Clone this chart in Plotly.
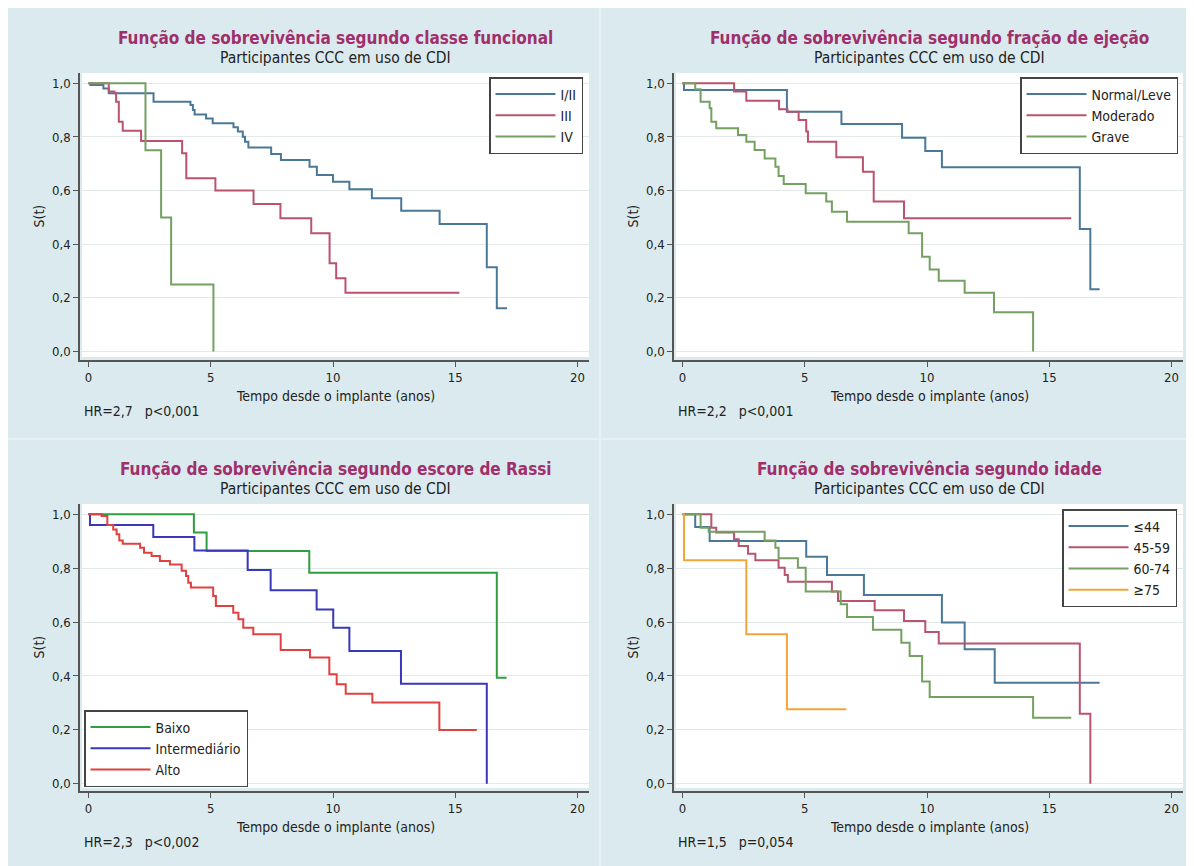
import plotly.graph_objects as go

# the page shows the figure with an 8 px body margin
OFF = 8
W, H = 1194 - OFF, 866 - OFF

# ---------------- DATA ----------------
x_tick_vals = [0, 5, 10, 15, 20]
x_tick_text = ["0", "5", "10", "15", "20"]
y_tick_vals = [0, 0.2, 0.4, 0.6, 0.8, 1.0]
y_tick_text = ["0,0", "0,2", "0,4", "0,6", "0,8", "1,0"]

# Panel 1: classe funcional
cf_names = ["I/II", "III", "IV"]
cf_I_II_t = [0, 0.08, 0.61, 0.83, 2.66, 4.17, 4.27, 4.34, 4.81, 5.08, 5.93, 6.11, 6.31, 6.40, 6.54,
             7.47, 7.87, 9.04, 9.34, 10.0, 10.67, 11.59, 12.79, 14.36, 16.29, 16.70, 17.12]
cf_I_II_s = [1.0, 0.994, 0.981, 0.963, 0.931, 0.919, 0.900, 0.884, 0.869, 0.851, 0.836, 0.820, 0.801,
             0.782, 0.761, 0.736, 0.714, 0.689, 0.658, 0.633, 0.605, 0.571, 0.525, 0.475, 0.314, 0.161, 0.161]
cf_III_t = [0, 0.83, 1.06, 1.13, 1.24, 1.40, 2.15, 3.83, 4.0, 5.19, 6.75, 7.85, 9.11, 9.86, 10.13, 10.51, 15.17]
cf_III_s = [1.0, 0.969, 0.963, 0.931, 0.857, 0.823, 0.785, 0.739, 0.646, 0.600, 0.550, 0.497, 0.441,
            0.329, 0.273, 0.219, 0.219]
cf_IV_t = [0, 2.33, 2.97, 3.38, 5.11]
cf_IV_s = [1.0, 0.75, 0.50, 0.25, 0.0]

# Panel 2: fracao de ejecao
fe_names = ["Normal/Leve", "Moderado", "Grave"]
fe_normal_t = [0, 0.06, 4.27, 6.50, 8.98, 9.93, 10.61, 16.25, 16.68, 17.06]
fe_normal_s = [1.0, 0.975, 0.894, 0.848, 0.797, 0.748, 0.687, 0.457, 0.232, 0.232]
fe_moder_t = [0, 2.11, 2.61, 3.95, 4.29, 4.75, 5.06, 5.13, 6.29, 7.38, 7.82, 9.06, 15.90]
fe_moder_s = [1.0, 0.969, 0.935, 0.903, 0.894, 0.863, 0.820, 0.782, 0.724, 0.670, 0.559, 0.497, 0.497]
fe_grave_t = [0, 0.52, 0.74, 1.11, 1.18, 1.38, 2.27, 2.61, 2.95, 3.36, 3.80, 3.93, 4.14, 5.04, 5.88,
              6.11, 6.73, 9.25, 9.80, 10.11, 10.48, 11.54, 12.74, 14.34]
fe_grave_s = [1.0, 0.978, 0.931, 0.907, 0.857, 0.832, 0.807, 0.782, 0.751, 0.720, 0.689, 0.654, 0.625,
              0.590, 0.559, 0.521, 0.484, 0.441, 0.353, 0.306, 0.264, 0.219, 0.146, 0.0]

# Panel 3: escore de Rassi
ra_names = ["Baixo", "Intermediário", "Alto"]
ra_baixo_t = [0, 4.31, 4.83, 9.03, 16.70, 17.10]
ra_baixo_s = [1.0, 0.932, 0.864, 0.783, 0.393, 0.393]
ra_inter_t = [0, 0.06, 2.65, 4.33, 6.51, 7.45, 9.33, 10.01, 10.67, 12.78, 16.29]
ra_inter_s = [1.0, 0.960, 0.916, 0.866, 0.793, 0.718, 0.647, 0.579, 0.493, 0.371, 0.0]
ra_alto_t = [0, 0.54, 0.77, 1.01, 1.15, 1.26, 1.40, 2.11, 2.27, 2.58, 2.92, 3.33, 3.81, 3.99, 4.08,
             4.19, 5.10, 5.21, 5.92, 6.13, 6.33, 6.74, 7.86, 9.06, 9.85, 10.15, 10.52, 11.61, 14.35, 15.88]
ra_alto_s = [1.0, 0.994, 0.960, 0.944, 0.926, 0.903, 0.891, 0.876, 0.857, 0.845, 0.827, 0.814, 0.790,
             0.771, 0.746, 0.728, 0.697, 0.660, 0.635, 0.610, 0.579, 0.555, 0.496, 0.468, 0.406, 0.369,
             0.334, 0.301, 0.199, 0.199]

# Panel 4: idade
id_names = ["≤44", "45-59", "60-74", "≥75"]
id_44_t = [0, 0.52, 1.11, 5.06, 5.91, 7.42, 10.61, 11.54, 12.77, 17.06]
id_44_s = [1.0, 0.953, 0.901, 0.842, 0.775, 0.700, 0.598, 0.499, 0.375, 0.375]
id_45_t = [0, 1.18, 1.38, 2.11, 2.30, 2.68, 2.98, 3.93, 4.18, 4.31, 6.11, 6.36, 7.86, 9.06, 9.93,
           10.48, 16.25, 16.68]
id_45_s = [1.0, 0.950, 0.932, 0.907, 0.882, 0.854, 0.829, 0.802, 0.775, 0.750, 0.713, 0.678, 0.644,
           0.604, 0.563, 0.520, 0.260, 0.0]
id_60_t = [0, 0.74, 1.07, 3.36, 3.80, 3.93, 4.72, 5.04, 6.47, 6.73, 7.79, 8.95, 9.29, 9.80, 10.11,
           14.34, 15.90]
id_60_s = [1.0, 0.950, 0.935, 0.903, 0.876, 0.837, 0.802, 0.713, 0.666, 0.619, 0.571, 0.523, 0.474,
           0.379, 0.322, 0.245, 0.245]
id_75_t = [0, 0.06, 2.61, 4.27, 6.70]
id_75_s = [1.0, 0.829, 0.555, 0.276, 0.276]

titles = ["Função de sobrevivência segundo classe funcional",
          "Função de sobrevivência segundo fração de ejeção",
          "Função de sobrevivência segundo escore de Rassi",
          "Função de sobrevivência segundo idade"]
subtitle = "Participantes CCC em uso de CDI"
x_title = "Tempo desde o implante (anos)"
y_title = "S(t)"
hr_texts = ["HR=2,7\u00a0\u00a0\u00a0p<0,001", "HR=2,2\u00a0\u00a0\u00a0p<0,001",
            "HR=2,3\u00a0\u00a0\u00a0p<0,002", "HR=1,5\u00a0\u00a0\u00a0p=0,054"]

# ---------------- STYLE ----------------
BG = "#dbeaee"
FONT = "DejaVu Sans Condensed, Liberation Sans Narrow, sans-serif"
TITLE_COLOR = "#a02f6c"
AX_COLOR = "#555555"
GRID = "#e3e9eb"

c_blue, c_red, c_green, c_orange = "#4a7896", "#b9536e", "#74a062", "#f0a53a"
r_green, r_blue, r_red = "#2f9e3f", "#3838b8", "#e0403f"

series = [
    (1, cf_names[0], cf_I_II_t, cf_I_II_s, c_blue),
    (1, cf_names[1], cf_III_t, cf_III_s, c_red),
    (1, cf_names[2], cf_IV_t, cf_IV_s, c_green),
    (2, fe_names[0], fe_normal_t, fe_normal_s, c_blue),
    (2, fe_names[1], fe_moder_t, fe_moder_s, c_red),
    (2, fe_names[2], fe_grave_t, fe_grave_s, c_green),
    (3, ra_names[0], ra_baixo_t, ra_baixo_s, r_green),
    (3, ra_names[1], ra_inter_t, ra_inter_s, r_blue),
    (3, ra_names[2], ra_alto_t, ra_alto_s, r_red),
    (4, id_names[0], id_44_t, id_44_s, c_blue),
    (4, id_names[1], id_45_t, id_45_s, c_red),
    (4, id_names[2], id_60_t, id_60_s, c_green),
    (4, id_names[3], id_75_t, id_75_s, c_orange),
]

# panel geometry in screen pixels
SX = 24.45
panels = {}
for i in (1, 2, 3, 4):
    col = (i - 1) % 2
    row = (i - 1) // 2
    dx = 594 * col
    dy = 431 * row
    panels[i] = dict(
        axisX=80 + dx, t0=88.5 + dx, whiteL=82 + dx, whiteR=589 + dx,
        whiteT=73 + dy, whiteB=357 + dy, axisY=360 + dy,
        y0=351.5 + dy + (1.2 if row else 0), sy=268.2 + (1.2 if row else 0),
    )


def fx(px):
    return (px - OFF) / W


def fy(py):
    return 1 - (py - OFF) / H


fig = go.Figure()
for (p, name, t, s, color) in series:
    sfx = "" if p == 1 else str(p)
    fig.add_trace(go.Scatter(
        x=t, y=s, mode="lines", name=name,
        line=dict(shape="hv", color=color, width=2),
        xaxis="x" + sfx, yaxis="y" + sfx,
        legend="legend" + sfx, legendgroup=f"{p}-{name}",
        hoverinfo="skip",
    ))

layout = dict(
    width=W, height=H, autosize=False,
    margin=dict(l=0, r=0, t=0, b=0, pad=0),
    paper_bgcolor=BG, plot_bgcolor="rgba(0,0,0,0)",
    font=dict(family=FONT, size=14, color="#222222"),
    showlegend=True,
)

shapes = [
    dict(type="line", xref="paper", yref="paper", x0=fx(600), x1=fx(600), y0=0, y1=1,
         line=dict(color="#e6f1f3", width=2), layer="below"),
    dict(type="line", xref="paper", yref="paper", x0=0, x1=1, y0=fy(439), y1=fy(439),
         line=dict(color="#e6f1f3", width=2), layer="below"),
]
annotations = []

legend_specs = {
    1: dict(x=fx(583), y=fy(77), xanchor="right", yanchor="top"),
    2: dict(x=fx(1178), y=fy(77), xanchor="right", yanchor="top"),
    3: dict(x=fx(84), y=fy(787), xanchor="left", yanchor="bottom"),
    4: dict(x=fx(1177), y=fy(509), xanchor="right", yanchor="top"),
}

for i, g in panels.items():
    sfx = "" if i == 1 else str(i)
    xr = [(g["axisX"] - g["t0"]) / SX, (g["whiteR"] - g["t0"]) / SX]
    yr = [(g["y0"] - g["axisY"]) / g["sy"], (g["y0"] - g["whiteT"]) / g["sy"]]
    layout["xaxis" + sfx] = dict(
        domain=[fx(g["axisX"]), fx(g["whiteR"])], range=xr, anchor="y" + sfx,
        showline=True, linecolor=AX_COLOR, linewidth=1.5, mirror=False,
        ticks="outside", ticklen=5, tickwidth=1.2, tickcolor=AX_COLOR,
        tickvals=x_tick_vals, ticktext=x_tick_text, showgrid=False, zeroline=False,
        tickfont=dict(family=FONT, size=13, color="#222222"), fixedrange=True,
    )
    layout["yaxis" + sfx] = dict(
        domain=[fy(g["axisY"]), fy(g["whiteT"])], range=yr, anchor="x" + sfx,
        showline=True, linecolor=AX_COLOR, linewidth=1.5,
        ticks="outside", ticklen=5, tickwidth=1.2, tickcolor=AX_COLOR,
        tickvals=y_tick_vals, ticktext=y_tick_text, showgrid=True, gridcolor=GRID,
        gridwidth=1, zeroline=False,
        tickfont=dict(family=FONT, size=13, color="#222222"), fixedrange=True,
    )
    shapes.append(dict(type="rect", xref="paper", yref="paper",
                       x0=fx(g["whiteL"]), x1=fx(g["whiteR"]),
                       y0=fy(g["whiteB"]), y1=fy(g["whiteT"]),
                       fillcolor="white", line=dict(width=0), layer="below"))
    cx = (g["whiteL"] + g["whiteR"]) / 2
    dy = g["whiteT"] - 73
    annotations += [
        dict(text="<b>" + titles[i - 1] + "</b>", x=fx(cx), y=fy(38 + dy), xref="paper", yref="paper",
             xanchor="center", yanchor="middle", showarrow=False,
             font=dict(family=FONT, size=17, color=TITLE_COLOR)),
        dict(text=subtitle, x=fx(cx), y=fy(58 + dy), xref="paper", yref="paper",
             xanchor="center", yanchor="middle", showarrow=False,
             font=dict(family=FONT, size=15.5, color="#222222")),
        dict(text=x_title, x=fx(cx), y=fy(396 + dy), xref="paper", yref="paper",
             xanchor="center", yanchor="middle", showarrow=False,
             font=dict(family=FONT, size=14, color="#222222")),
        dict(text=hr_texts[i - 1], x=fx(g["whiteL"]), y=fy(411 + dy), xref="paper", yref="paper",
             xanchor="left", yanchor="middle", showarrow=False,
             font=dict(family=FONT, size=14, color="#222222")),
        dict(text=y_title, x=fx(g["axisX"] - 42), y=fy((g["whiteT"] + g["axisY"]) / 2),
             xref="paper", yref="paper", textangle=-90,
             xanchor="center", yanchor="middle", showarrow=False,
             font=dict(family=FONT, size=14, color="#222222")),
    ]
    layout["legend" + sfx] = dict(
        **legend_specs[i], xref="paper", yref="paper",
        bgcolor="white", bordercolor="#444444", borderwidth=1.5,
        font=dict(family=FONT, size=14, color="#222222"),
        itemwidth=60, tracegroupgap=2, traceorder="normal",
    )

layout["shapes"] = shapes
layout["annotations"] = annotations
fig.update_layout(**layout)
fig.write_html("out.html")
